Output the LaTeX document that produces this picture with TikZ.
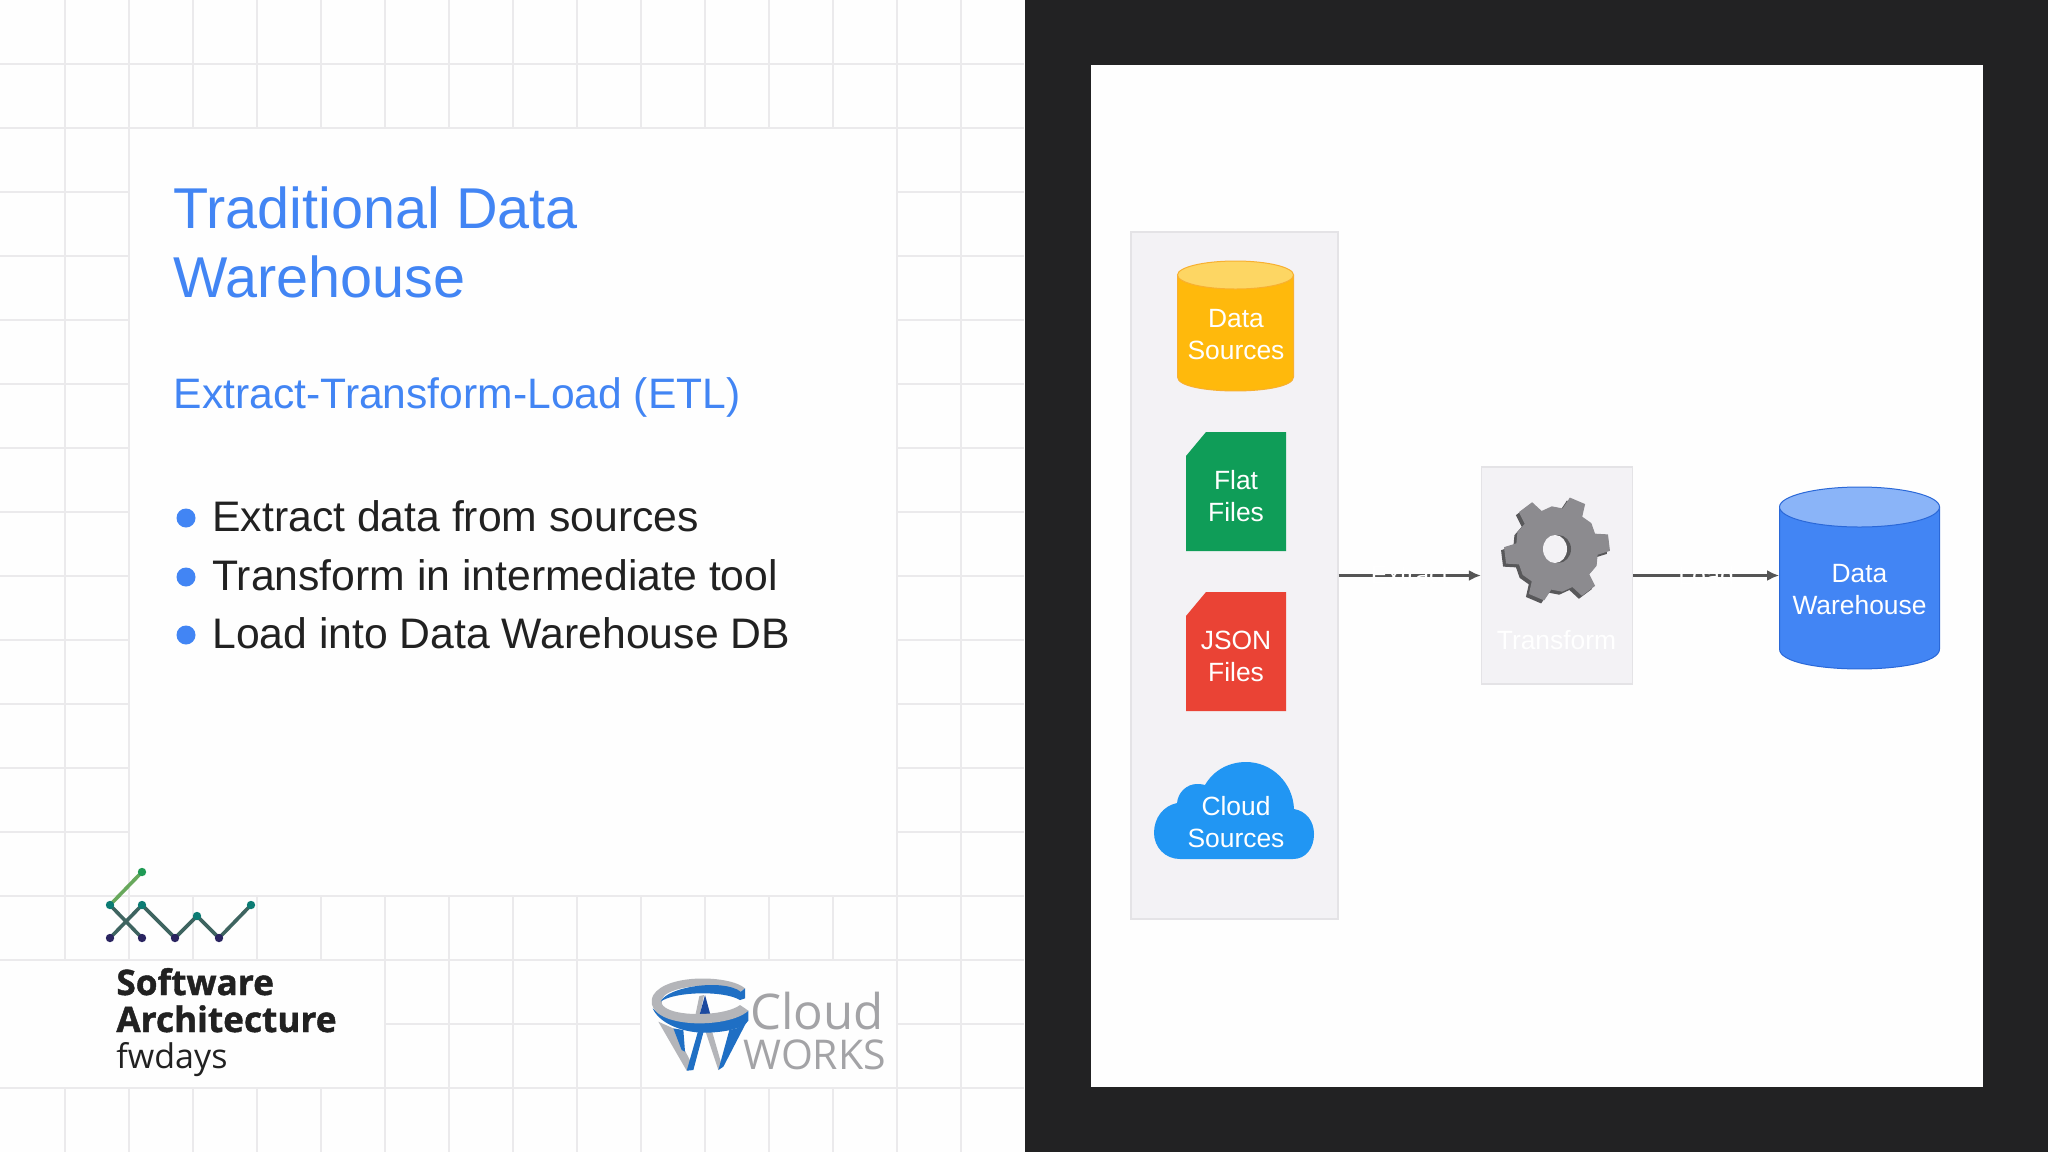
\documentclass[tikz,border=0pt]{standalone}
\usepackage{fontspec}
\setmainfont{Liberation Sans}
\newfontfamily\opensans[BoldFeatures={FakeBold=1.2}]{Open Sans}
\usetikzlibrary{shapes,arrows.meta,positioning,calc}

\definecolor{pagebg}{HTML}{FEFEFE}
\definecolor{gridgray}{HTML}{EBEAEC}
\definecolor{darkbg}{HTML}{222223}
\definecolor{panelfill}{HTML}{F3F2F5}
\definecolor{paneledge}{HTML}{E4E3E6}
\definecolor{slideblue}{HTML}{4285F4}
\definecolor{bodyblack}{HTML}{212121}
\definecolor{amberbody}{HTML}{FFB90C}
\definecolor{ambertop}{HTML}{FDD663}
\definecolor{amberedge}{HTML}{F8B030}
\definecolor{filegreen}{HTML}{0F9D58}
\definecolor{filered}{HTML}{EA4335}
\definecolor{cloudblue}{HTML}{2196F3}
\definecolor{dwtop}{HTML}{8AB4F8}
\definecolor{dwedge}{HTML}{2A68D8}
\definecolor{flowgray}{HTML}{555555}
\definecolor{gearface}{HTML}{8C8B8F}
\definecolor{gearside}{HTML}{58585A}
\definecolor{logogray}{HTML}{A3A3A6}
\definecolor{ringgray}{HTML}{B4B5B9}
\definecolor{ringblue}{HTML}{1F6FC4}
\definecolor{ringnavy}{HTML}{1C4AA0}

\tikzset{
  gridline/.style={gridgray, line width=0.55pt},
  panelbox/.style={draw=paneledge, fill=panelfill, rectangle, line width=0.6pt, inner sep=0pt},
  shapelabel/.style={text=white, align=center, inner sep=0pt, font=\fontsize{13.2}{16}\selectfont},
  flowline/.style={flowgray, line width=1.5pt, -{Latex[length=6pt,width=5.5pt]}},
  ghostlabel/.style={text=white, inner sep=0pt, font=\fontsize{12.5}{15}\selectfont},
  bulletdot/.style={circle, fill=slideblue, minimum size=9.5pt, inner sep=0pt},
  bullettext/.style={anchor=base west, inner sep=0pt, text=bodyblack, font=\fontsize{21.35}{25}\selectfont},
  fwline/.style={line width=1.8pt},
  fwdot/.style={circle, minimum size=4.2pt, inner sep=0pt},
}

\newcommand{\gearoutline}{(-22:41) \foreach \t in {-7,53,113,173,233,293} { -- (\t-15:41) -- (\t-9:53) -- (\t+9:53) -- (\t+15:41) -- (\t+30:43) } -- cycle}

% center x, top y, bottom y, x radius, y radius, edge, body, lid
\newcommand{\dbdraw}[8]{
  \filldraw[draw=#6, fill=#7, line width=0.5pt] (#1-#4,#2) -- (#1-#4,#3) .. controls (#1-#4,#3+1.33*#5) and (#1+#4,#3+1.33*#5) .. (#1+#4,#3) -- (#1+#4,#2) -- cycle;
  \filldraw[draw=#6, fill=#8, line width=0.5pt] (#1,#2) ellipse (#4 and #5);
}

\begin{document}
\begin{tikzpicture}[x=0.5pt,y=-0.5pt]

\useasboundingbox (0,0) rectangle (2048,1152);

% Slide background
\fill[pagebg] (0,0) rectangle (1025,1152);

% Grid on the slide
\foreach \i in {0,1,...,14} {
  \pgfmathsetmacro{\x}{65 + 64*\i}
  \draw[gridline] (\x, 0) -- (\x, 1152);
}
\foreach \i in {1,2,...,17} {
  \pgfmathsetmacro{\y}{64*\i}
  \draw[gridline] (0, \y) -- (1024, \y);
}

% Blank areas over the grid
\fill[pagebg] (130,129) rectangle (896,895);
\fill[pagebg] (0,961) rectangle (384,1087);
\fill[pagebg] (642,961) rectangle (896,1087);

% Dark half and canvas
\fill[darkbg] (1025,0) rectangle (2048,1152);
\fill[pagebg] (1091,65) rectangle (1983,1087);

% Slide text
\node[anchor=base west, inner sep=0pt, text=slideblue, font=\fontsize{28.8}{34}\selectfont] (title1) at (173,228) {Traditional Data};
\node[anchor=base west, inner sep=0pt, text=slideblue, font=\fontsize{28.8}{34}\selectfont] (title2) at (173,297) {Warehouse};
\node[anchor=base west, inner sep=0pt, text=slideblue, font=\fontsize{21.3}{25}\selectfont] (subtitle) at (173.5,408) {Extract-Transform-Load (ETL)};

% Bullets
\foreach \i/\y/\t in {1/531/Extract data from sources, 2/590/Transform in intermediate tool, 3/648/Load into Data Warehouse DB} {
  \node[bulletdot] (dot\i) at (186, \y-13) {};
  \node[bullettext] (item\i) at (212, \y) {\t};
}

% Source column
\node[panelbox, minimum width=103.5pt, minimum height=343.5pt] (srcpanel) at (1234.5,575.5) {};
\dbdraw{1235.5}{275}{377}{58}{14}{amberedge}{amberbody}{ambertop}
\node[shapelabel] (srclabel) at (1236,334.5) {Data\\Sources};

% File cards
\foreach \top/\col/\nm/\txt in {432/filegreen/flatfile/{Flat\\Files}, 592/filered/jsonfile/{JSON\\Files}} {
  \fill[\col] (1186,\top+24) -- (1206,\top) -- (1286,\top) -- (1286,\top+119) -- (1186,\top+119) -- cycle;
  \node[shapelabel] (\nm) at (1236,\top+64) {\txt};
}

% Cloud
\fill[cloudblue] (1180,859) -- (1293,859)
  .. controls (1306,859) and (1314,848) .. (1314,834)
  .. controls (1314,821) and (1306,811) .. (1294,809)
  .. controls (1293,783) and (1272,762) .. (1246,762)
  .. controls (1228,762) and (1213,771) .. (1205,785)
  .. controls (1201,784) and (1199,784) .. (1197,784)
  .. controls (1187,784) and (1178,792) .. (1177,803)
  .. controls (1163,806) and (1154,818) .. (1154,833)
  .. controls (1154,847) and (1165,859) .. (1180,859) -- cycle;
\node[shapelabel] (cloudsrc) at (1236,822) {Cloud\\Sources};

% Transform box with gear
\node[panelbox, minimum width=75.5pt, minimum height=108.5pt] (xfrmpanel) at (1557,575.5) {};
\begin{scope}[shift={(1557,549)}]
  \begin{scope}[shift={(-3,3)}]
    \fill[gearside] \gearoutline;
  \end{scope}
  \fill[gearface] \gearoutline;
  \fill[gearside] (1,0) ellipse (13 and 14);
  \fill[panelfill] (-2,0) ellipse (12 and 14);
\end{scope}
\node[text=white, inner sep=0pt, font=\fontsize{13.2}{16}\selectfont, anchor=base] (xfrmtext) at (1556.5,649) {Transform};

% Warehouse
\dbdraw{1859.5}{507}{649}{80}{20}{dwedge}{slideblue}{dwtop}
\node[inner sep=0pt, minimum width=80pt, minimum height=91pt] (dwh) at (1859.5,578) {};
\node[shapelabel] (dwlabel) at (1859.5,589.5) {Data\\Warehouse};

% Flow
\draw[flowline] (srcpanel.east) -- (xfrmpanel.west) node[midway, ghostlabel] (extractlbl) {Extract};
\draw[flowline] (xfrmpanel.east) -- (dwh.west |- xfrmpanel.east) node[midway, ghostlabel] (loadlbl) {Load};

% fwdays mark
\foreach \n/\x/\y in {p1/142/872, p2/110/905, p3/142/938, p4/110/938, p5/142/905, p6/175/938, p7/197/916, p8/219/938, p9/251/905} {
  \coordinate (\n) at (\x,\y);
}
\draw[fwline, color={rgb,255:red,104;green,168;blue,92}] (p1) -- (p2);
\foreach \a/\b in {p2/p3, p4/p5, p5/p6, p6/p7, p7/p8, p8/p9} {
  \draw[fwline, color={rgb,255:red,62;green,100;blue,96}] (\a) -- (\b);
}
\node[fwdot, fill={rgb,255:red,31;green,154;blue,85}] (d1) at (p1) {};
\foreach \n in {p2,p5,p7,p9} {
  \node[fwdot, fill={rgb,255:red,12;green,124;blue,116}] (d\n) at (\n) {};
}
\foreach \n in {p3,p4,p6,p8} {
  \node[fwdot, fill={rgb,255:red,42;green,36;blue,96}] (d\n) at (\n) {};
}

% fwdays words
\node[anchor=base west, inner sep=0pt, text=bodyblack, font=\opensans\bfseries\fontsize{17.6}{22}\selectfont] (fw1) at (116,995) {Software};
\node[anchor=base west, inner sep=0pt, text=bodyblack, font=\opensans\bfseries\fontsize{17.6}{22}\selectfont] (fw2) at (116,1032) {Architecture};
\node[anchor=base west, inner sep=0pt, text=bodyblack, font=\opensans\fontsize{17}{22}\selectfont] (fw3) at (116,1068) {fwdays};

% CloudWorks mark
\begin{scope}[shift={(630,950)},x=0.1667pt,y=-0.1667pt]
  \fill[ringgray] (85,215) -- (130,235) -- (190,350) -- (170,362) -- cycle;
  \fill[ringblue] (130,235) -- (160,240) -- (165,305) -- (155,300) -- cycle;
  \fill[ringblue] (170,362) -- (190,360) -- (222,240) -- (205,240) -- cycle;
  \fill[ringgray] (225,240) -- (245,240) -- (275,345) -- (265,360) -- cycle;
  \fill[ringblue] (265,360) -- (280,350) -- (350,215) -- (320,235) -- (298,240) -- cycle;
  \fill[ringgray] (192,215) -- (208,138) -- (222,135) -- (205,215) -- cycle;
  \fill[ringnavy] (225,135) -- (245,208) -- (205,208) -- cycle;
  \fill[ringblue] (68,175) .. controls (90,225) and (170,250) .. (230,248) .. controls (290,246) and (340,235) .. (355,212) -- (355,182) .. controls (300,215) and (110,220) .. (68,175) -- cycle;
  \fill[ringgray] (345,115) .. controls (300,75) and (110,70) .. (70,135) .. controls (50,175) and (90,205) .. (150,215) .. controls (220,228) and (320,215) .. (355,182) -- (330,165) .. controls (290,195) and (170,200) .. (120,180) .. controls (95,170) and (85,155) .. (105,135) .. controls (150,100) and (290,100) .. (330,125) -- cycle;
  \fill[ringblue] (92,155) .. controls (110,110) and (280,85) .. (332,125) -- (345,115) -- (345,145) -- (330,150) .. controls (280,120) and (130,125) .. (92,155) -- cycle;
\end{scope}
\node[anchor=base west, inner sep=0pt, text=logogray, font=\opensans\fontsize{24.6}{28}\selectfont] (cwtop) at (750,1029) {Cloud};
\node[anchor=base west, inner sep=0pt, text=logogray, font=\opensans\fontsize{20.5}{24}\selectfont] (cwbot) at (743,1069) {WORKS};

\end{tikzpicture}
\end{document}
